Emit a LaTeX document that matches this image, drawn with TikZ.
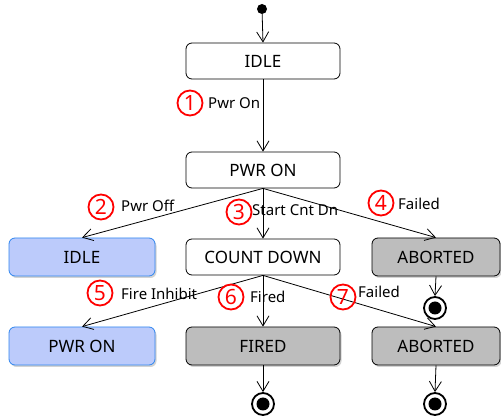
\documentclass[tikz,border=0pt]{standalone}
\usepackage{fontspec}
\setmainfont{Noto Sans}
\usetikzlibrary{arrows.meta,shadows}

\definecolor{bluefill}{HTML}{BCCBFB}
\definecolor{blueline}{HTML}{2F86F0}
\definecolor{grayfill}{HTML}{BDBDBD}

\tikzset{
  state/.style={draw, rounded corners=6pt, minimum width=154pt, minimum height=36pt,
    fill=white, line width=0.8pt, inner sep=0pt, font=\fontsize{17}{19}\selectfont},
  bluestate/.style={state, fill=bluefill, draw=blueline, minimum width=146pt, minimum height=38pt,
    drop shadow={shadow xshift=1.5pt, shadow yshift=-2pt, opacity=0.35}},
  graystate/.style={state, fill=grayfill, minimum height=38pt,
    drop shadow={shadow xshift=1.5pt, shadow yshift=-2pt, opacity=0.35}},
  initial/.style={circle, fill, inner sep=0pt, minimum size=10pt},
  final/.style={circle, draw, line width=1.8pt, minimum size=22pt, inner sep=0pt,
    path picture={\fill (path picture bounding box.center) circle (6.5pt);}},
  trans/.style={-{Straight Barb[length=10pt,width=12pt]}, line width=0.8pt},
  num/.style={circle, draw=red, text=red, line width=1.8pt, minimum size=25pt, inner sep=0pt,
    font=\fontsize{21}{22}\selectfont},
  lbl/.style={anchor=west, inner sep=0pt, font=\fontsize{15}{17}\selectfont}
}

\begin{document}
\begin{tikzpicture}[x=1pt,y=-1pt]
  \useasboundingbox (0,0) rectangle (501,419);

  % states
  \node[initial] (start) at (262,9) {};
  \node[state] (idle) at (263,61) {IDLE};
  \node[state] (pwron) at (263,170) {PWR ON};
  \node[state] (count) at (263,257) {COUNT DOWN};
  \node[bluestate] (idleb) at (82,257) {IDLE};
  \node[graystate, minimum width=128pt] (abort1) at (436,257) {ABORTED};
  \node[bluestate] (pwronb) at (82,346) {PWR ON};
  \node[graystate] (fired) at (263,346) {FIRED};
  \node[graystate, minimum width=128pt] (abort2) at (436,346) {ABORTED};

  % end states
  \node[final] (end1) at (435,308) {};
  \node[final] (end2) at (263,404) {};
  \node[final] (end3) at (435,404) {};

  % transitions
  \draw[trans] (start) -- (idle.north);
  \draw[trans] (idle.south) -- (pwron.north);
  \draw[trans] (pwron.south) -- (idleb.north);
  \draw[trans] (pwron.south) -- (count.north);
  \draw[trans] (pwron.south) -- (abort1.north);
  \draw[trans] (count.south) -- (pwronb.north);
  \draw[trans] (count.south) -- (fired.north);
  \draw[trans] (count.south) -- (abort2.north);
  \draw[trans] (abort1.south) -- (end1.north);
  \draw[trans] (fired.south) -- (end2.north);
  \draw[trans] (abort2.south) -- (end3.north);

  % labels
  \node[num] (n1) at (190,103) {1};
  \node[lbl] (l1) at (208,103) {Pwr On};
  \node[num] (n2) at (101,207) {2};
  \node[lbl] (l2) at (121,206) {Pwr Off};
  \node[num] (n3) at (239,212) {3};
  \node[lbl] (l3) at (252,210) {Start Cnt Dn};
  \node[num] (n4) at (381,203) {4};
  \node[lbl] (l4) at (398,204) {Failed};
  \node[num] (n5) at (100,293) {5};
  \node[lbl] (l5) at (121,294) {Fire Inhibit};
  \node[num] (n6) at (231,297) {6};
  \node[lbl] (l6) at (250,297) {Fired};
  \node[num] (n7) at (343,297) {7};
  \node[lbl] (l7) at (358,292) {Failed};
\end{tikzpicture}
\end{document}
